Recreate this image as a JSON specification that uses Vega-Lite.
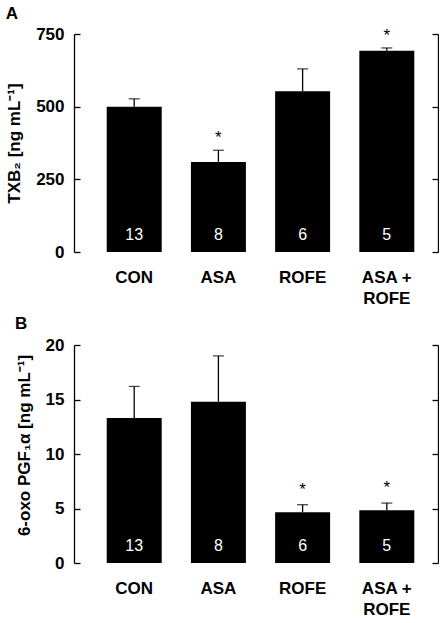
{
  "$schema": "https://vega.github.io/schema/vega-lite/v6.json",
  "padding": {"left": 5, "top": 5, "right": 0, "bottom": 0},
  "background": "white",
  "spacing": 8,
  "config": {
    "font": "Liberation Sans",
    "view": {"stroke": null},
    "axis": {"grid": false, "labelColor": "black", "titleColor": "black", "domainColor": "black", "tickColor": "black"},
    "title": {"color": "black"}
  },
  "vconcat": [
    {
      "title": {"text": "A", "anchor": "start", "frame": "bounds", "fontSize": 17, "fontWeight": "bold", "offset": 2},
      "width": 364,
      "height": 218,
      "data": {"values": [
        {"g": "CON", "v": 500, "e": 527, "n": "13", "s": ""},
        {"g": "ASA", "v": 310, "e": 350, "n": "8", "s": "*"},
        {"g": "ROFE", "v": 553, "e": 630, "n": "6", "s": ""},
        {"g": "ASA + ROFE", "v": 692, "e": 702, "n": "5", "s": "*"}
      ]},
      "encoding": {
        "x": {"field": "g", "type": "nominal", "sort": null,
          "scale": {"paddingInner": 0.347, "paddingOuter": 0.335, "align": 0.58},
          "axis": {"title": null, "domain": false, "ticks": false, "labelAngle": 0, "labelFontSize": 17, "labelFontWeight": "bold", "labelPadding": 17, "labelLineHeight": 21,
            "labelExpr": "datum.value == 'ASA + ROFE' ? ['ASA +', 'ROFE'] : datum.value"}}
      },
      "layer": [
        {"mark": {"type": "rule", "color": "black", "strokeWidth": 1.3},
          "encoding": {
            "y": {"field": "v", "type": "quantitative", "scale": {"domain": [0, 750], "nice": false},
              "axis": {"orient": "left", "values": [0, 250, 500, 750], "domainWidth": 1.3, "tickWidth": 1.3, "tickSize": -6, "labelPadding": 16, "labelFontSize": 17, "labelFontWeight": "bold",
                "title": "TXB₂ [ng mL⁻¹]", "titleFontSize": 17, "titleFontWeight": "bold", "titlePadding": 12}},
            "y2": {"field": "e"}}},
        {"mark": {"type": "bar", "color": "black"},
          "encoding": {"y": {"field": "v", "type": "quantitative", "axis": null}}},
        {"mark": {"type": "tick", "color": "black", "size": 11, "thickness": 1.3},
          "encoding": {"y": {"field": "e", "type": "quantitative", "axis": null}}},
        {"mark": {"type": "text", "color": "white", "fontSize": 16, "baseline": "alphabetic", "dy": -12},
          "encoding": {"y": {"datum": 0, "type": "quantitative", "axis": null}, "text": {"field": "n"}}},
        {"mark": {"type": "text", "color": "black", "fontSize": 17, "baseline": "alphabetic", "dy": -7},
          "encoding": {"y": {"field": "e", "type": "quantitative", "axis": null}, "text": {"field": "s"}}},
        {"mark": {"type": "rule", "opacity": 0},
          "encoding": {"y": {"field": "v", "type": "quantitative",
            "axis": {"orient": "right", "values": [0, 250, 500, 750], "labels": false, "title": null, "domainWidth": 1.3, "tickWidth": 1.3, "tickSize": -6}}}}
      ],
      "resolve": {"axis": {"y": "independent"}}
    },
    {
      "title": {"text": "B", "anchor": "start", "frame": "bounds", "fontSize": 17, "fontWeight": "bold", "offset": -1},
      "width": 364,
      "height": 218,
      "data": {"values": [
        {"g": "CON", "v": 13.3, "e": 16.2, "n": "13", "s": ""},
        {"g": "ASA", "v": 14.8, "e": 19.0, "n": "8", "s": ""},
        {"g": "ROFE", "v": 4.65, "e": 5.35, "n": "6", "s": "*"},
        {"g": "ASA + ROFE", "v": 4.85, "e": 5.5, "n": "5", "s": "*"}
      ]},
      "encoding": {
        "x": {"field": "g", "type": "nominal", "sort": null,
          "scale": {"paddingInner": 0.347, "paddingOuter": 0.335, "align": 0.58},
          "axis": {"title": null, "domain": false, "ticks": false, "labelAngle": 0, "labelFontSize": 17, "labelFontWeight": "bold", "labelPadding": 17, "labelLineHeight": 21,
            "labelExpr": "datum.value == 'ASA + ROFE' ? ['ASA +', 'ROFE'] : datum.value"}}
      },
      "layer": [
        {"mark": {"type": "rule", "color": "black", "strokeWidth": 1.3},
          "encoding": {
            "y": {"field": "v", "type": "quantitative", "scale": {"domain": [0, 20], "nice": false},
              "axis": {"orient": "left", "values": [0, 5, 10, 15, 20], "domainWidth": 1.3, "tickWidth": 1.3, "tickSize": -6, "labelPadding": 16, "labelFontSize": 17, "labelFontWeight": "bold",
                "title": "6-oxo PGF₁α [ng mL⁻¹]", "titleFontSize": 17, "titleFontWeight": "bold", "titlePadding": 12, "titleY": 100}},
            "y2": {"field": "e"}}},
        {"mark": {"type": "bar", "color": "black"},
          "encoding": {"y": {"field": "v", "type": "quantitative", "axis": null}}},
        {"mark": {"type": "tick", "color": "black", "size": 11, "thickness": 1.3},
          "encoding": {"y": {"field": "e", "type": "quantitative", "axis": null}}},
        {"mark": {"type": "text", "color": "white", "fontSize": 16, "baseline": "alphabetic", "dy": -12},
          "encoding": {"y": {"datum": 0, "type": "quantitative", "axis": null}, "text": {"field": "n"}}},
        {"mark": {"type": "text", "color": "black", "fontSize": 17, "baseline": "alphabetic", "dy": -10},
          "encoding": {"y": {"field": "e", "type": "quantitative", "axis": null}, "text": {"field": "s"}}},
        {"mark": {"type": "rule", "opacity": 0},
          "encoding": {"y": {"field": "v", "type": "quantitative",
            "axis": {"orient": "right", "values": [0, 5, 10, 15, 20], "labels": false, "title": null, "domainWidth": 1.3, "tickWidth": 1.3, "tickSize": -6}}}}
      ],
      "resolve": {"axis": {"y": "independent"}}
    }
  ]
}
